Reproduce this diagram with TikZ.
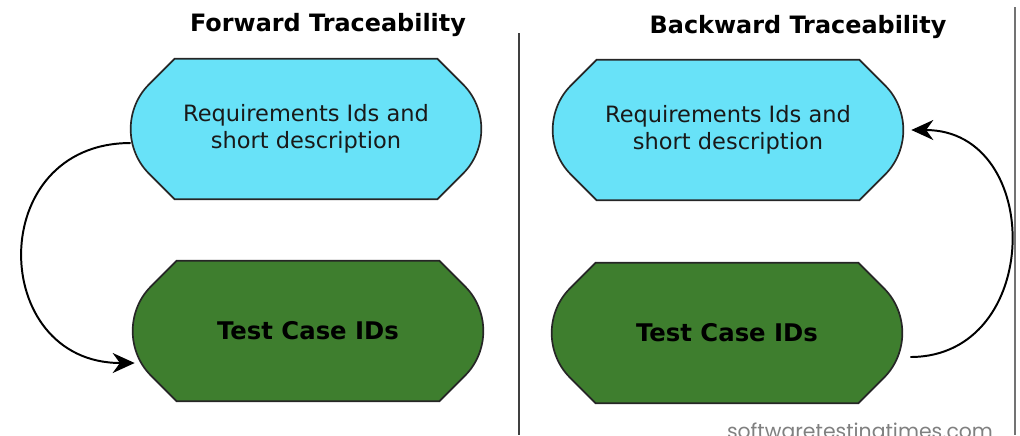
\documentclass[tikz,border=0pt]{standalone}
\usepackage{fontspec}
\setmainfont{DejaVu Sans}
\newfontfamily\sitefont{Poppins}
\usetikzlibrary{arrows.meta,backgrounds}

\definecolor{reqcyan}{RGB}{104,226,248}
\definecolor{tcgreen}{RGB}{62,126,46}

\tikzset{
  box/.style={minimum width=8.75cm,minimum height=3.5cm,inner sep=0pt,align=center},
  boxline/.style={draw=black!85,line width=1.2pt},
  heading/.style={font=\bfseries\fontsize{17}{20}\selectfont},
  reqtext/.style={font=\fontsize{16}{19}\selectfont,text=black!90},
  tctext/.style={font=\bfseries\fontsize{17.3}{20}\selectfont},
  link/.style={line width=1.4pt,-{Stealth[length=5.5mm,width=5mm,inset=1.8mm]}}
}

% outline with flat top and bottom, cut corners and rounded sides, drawn round a node
\newcommand{\capsule}[2]{%
  \draw[boxline,fill=#2] ([xshift=1.1cm]#1.north west) -- ([xshift=-1.1cm]#1.north east)
    -- ([xshift=-0.45cm,yshift=-0.65cm]#1.north east)
    .. controls ([xshift=-0.16cm,yshift=-0.94cm]#1.north east) and ([yshift=0.41cm]#1.east) .. (#1.east)
    .. controls ([yshift=-0.41cm]#1.east) and ([xshift=-0.16cm,yshift=0.94cm]#1.south east) .. ([xshift=-0.45cm,yshift=0.65cm]#1.south east)
    -- ([xshift=-1.1cm]#1.south east) -- ([xshift=1.1cm]#1.south west)
    -- ([xshift=0.45cm,yshift=0.65cm]#1.south west)
    .. controls ([xshift=0.16cm,yshift=0.94cm]#1.south west) and ([yshift=-0.41cm]#1.west) .. (#1.west)
    .. controls ([yshift=0.41cm]#1.west) and ([xshift=0.16cm,yshift=-0.94cm]#1.north west) .. ([xshift=0.45cm,yshift=-0.65cm]#1.north west)
    -- cycle;}

\begin{document}
\begin{tikzpicture}[x=0.025cm,y=-0.025cm]
  \useasboundingbox (0,0) rectangle (1020,435);

  \node[heading] (fwd) at (328,25) {Forward Traceability};
  \node[heading] (bwd) at (798,27) {Backward Traceability};

  \node[box,reqtext] (req1) at (306,129) {Requirements Ids and\\short description};
  \node[box,tctext] (tc1) at (308,331) {Test Case IDs};
  \node[box,reqtext] (req2) at (728,130) {Requirements Ids and\\short description};
  \node[box,tctext] (tc2) at (727,333) {Test Case IDs};

  \begin{pgfonlayer}{background}
    \capsule{req1}{reqcyan}
    \capsule{tc1}{tcgreen}
    \capsule{req2}{reqcyan}
    \capsule{tc2}{tcgreen}
  \end{pgfonlayer}

  \draw[line width=1.5pt,black!75] (519,33) -- (519,435);
  \draw[line width=1.3pt,black!55] (1015,7) -- (1015,435);

  \draw[link] ([yshift=-0.35cm]req1.west) to[out=180,in=180,looseness=1.7] ([xshift=0.05cm,yshift=-0.8cm]tc1.west);
  \draw[link] ([xshift=0.2cm,yshift=-0.6cm]tc2.east) to[out=0,in=0,looseness=1.5] ([xshift=0.2cm]req2.east);

  \node[font=\sitefont\fontsize{14.5}{16}\selectfont,text=black!50,anchor=base] (site) at (860,438) {softwaretestingtimes.com};
\end{tikzpicture}
\end{document}
